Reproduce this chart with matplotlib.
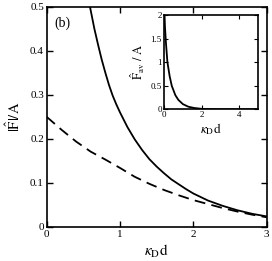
import matplotlib
matplotlib.use("Agg")
from matplotlib import pyplot as plt

# main panel: solid curve (starts off-scale above 0.5)
solid_x = [0.59, 0.65, 0.7, 0.75, 0.8, 0.85, 0.9, 0.95, 1.0, 1.1, 1.2, 1.3, 1.4, 1.5,
           1.6, 1.7, 1.8, 1.9, 2.0, 2.2, 2.4, 2.6, 2.8, 3.0]
solid_y = [0.500, 0.450, 0.414, 0.380, 0.350, 0.322, 0.298, 0.278, 0.260, 0.227, 0.199,
           0.175, 0.154, 0.137, 0.122, 0.108, 0.097, 0.086, 0.076, 0.060, 0.048, 0.038,
           0.030, 0.024]

# main panel: dashed curve
dash_x = [0.0, 0.2, 0.4, 0.6, 0.8, 1.0, 1.2, 1.4, 1.6, 1.8, 2.0, 2.2, 2.4, 2.6, 2.8, 3.0]
dash_y = [0.250, 0.221, 0.194, 0.171, 0.153, 0.134, 0.114, 0.098, 0.084, 0.072, 0.061,
          0.052, 0.043, 0.035, 0.028, 0.022]

# inset: F_av / A
inset_x = [0.01, 0.05, 0.1, 0.18, 0.3, 0.41, 0.6, 0.76, 1.0, 1.29, 1.6, 2.0, 2.5, 3.0, 4.0, 5.0]
inset_y = [2.2, 1.75, 1.42, 1.0, 0.7, 0.5, 0.3, 0.2, 0.11, 0.055, 0.028, 0.01, 0.004,
           0.002, 0.001, 0.0]

plt.rcParams["font.family"] = ["Liberation Serif", "DejaVu Serif"]
plt.rcParams["mathtext.fontset"] = "stix"

fig = plt.figure(figsize=(2.72, 2.61), dpi=100)

ax = fig.add_axes([0.1717, 0.1303, 0.8088, 0.844])
ax.plot(solid_x, solid_y, color="black", lw=1.3)
ax.plot(dash_x, dash_y, color="black", lw=1.3, ls=(0, (6, 3.5)))
ax.set_xlim(0, 3)
ax.set_ylim(0, 0.5)
ax.set_xticks([0, 1, 2, 3])
ax.set_xticklabels(["0", "1", "2", "3"])
ax.set_yticks([0, 0.1, 0.2, 0.3, 0.4, 0.5])
ax.set_yticklabels(["0", "0.1", "0.2", "0.3", "0.4", "0.5"])
ax.tick_params(direction="in", top=True, right=True, length=4, width=1,
               labelsize=8, pad=2)
for s in ax.spines.values():
    s.set_linewidth(1.2)
ax.set_xlabel(r"$\kappa_{\rm D}{\rm d}$", fontsize=11, labelpad=3)
ax.set_ylabel(r"$|\hat{\rm F}|/{\rm A}$", fontsize=10.5, labelpad=5)
ax.text(0.035, 0.955, "(b)", transform=ax.transAxes, fontsize=10, va="top")

ins = fig.add_axes([0.603, 0.5812, 0.3467, 0.3613])
ins.plot(inset_x, inset_y, color="black", lw=1.3)
ins.set_xlim(0, 5)
ins.set_ylim(0, 2)
ins.set_xticks([0, 2, 4])
ins.set_xticklabels(["0", "2", "4"])
ins.set_yticks([0, 0.5, 1, 1.5, 2])
ins.set_yticklabels(["0", "0.5", "1", "1.5", "2"])
ins.tick_params(direction="in", top=True, right=True, length=3, width=0.8,
                labelsize=6.5, pad=1.5)
for s in ins.spines.values():
    s.set_linewidth(1.2)
ins.set_xlabel(r"$\kappa_{\rm D}{\rm d}$", fontsize=9.5, labelpad=1)
ins.set_ylabel(r"$\hat{\rm F}_{\rm av}\ /\ {\rm A}$", fontsize=9, labelpad=3)

fig.savefig("out.png", dpi=100)
